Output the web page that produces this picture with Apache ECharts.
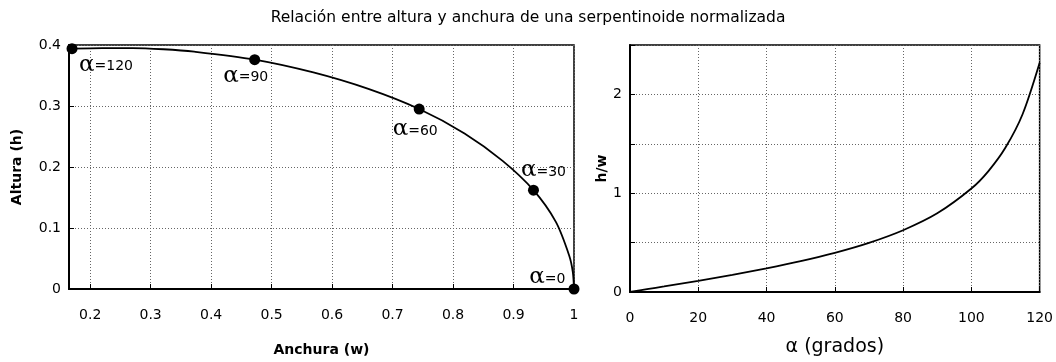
<!DOCTYPE html>
<html><head><meta charset="utf-8">
<script src="https://cdn.jsdelivr.net/npm/echarts@6/dist/echarts.min.js"></script>
<style>html,body{margin:0;padding:0;background:#fff}#c{width:1056px;height:362px}</style>
</head><body><div id="c"></div>
<script>
// alpha in degrees
const alphaDeg = [0, 5, 10, 20, 30, 40, 50, 60, 70, 80, 90, 100, 105, 110, 115, 120];
// normalized width (w) and height (h)
const widthW  = [1.000, 0.998, 0.992, 0.970, 0.933, 0.882, 0.819, 0.744, 0.660, 0.569, 0.472, 0.372, 0.321, 0.270, 0.220, 0.170];
const heightH = [0.000, 0.028, 0.055, 0.110, 0.162, 0.210, 0.255, 0.295, 0.328, 0.355, 0.376, 0.389, 0.393, 0.395, 0.395, 0.394];
// h/w ratio
const ratioHW = [0.000, 0.028, 0.056, 0.113, 0.173, 0.239, 0.312, 0.396, 0.497, 0.625, 0.796, 1.047, 1.224, 1.462, 1.799, 2.320];
const markedAlpha = [0, 30, 60, 90, 120];
const leftXTicks = [0.2, 0.3, 0.4, 0.5, 0.6, 0.7, 0.8, 0.9, 1];

const FONT = 'DejaVu Sans';
const labelPlacement = {
  0:   {position: 'left',   offset: [2, -12]},
  30:  {position: 'top',    offset: [10, 2]},
  60:  {position: 'bottom', offset: [-4, -2]},
  90:  {position: 'bottom', offset: [-9, -6]},
  120: {position: 'bottom', offset: [34, -6]}
};

const curveData = alphaDeg.map((a, i) => [widthW[i], heightH[i]]);
const pointData = markedAlpha.map(a => {
  const i = alphaDeg.indexOf(a);
  return {value: [widthW[i], heightH[i]], name: String(a), label: labelPlacement[a]};
});
const ratioData = alphaDeg.map((a, i) => [a, ratioHW[i]]);

const gridLine = {show: true, lineStyle: {color: '#666', type: [1, 2], width: 1}};
const axisLineStyle = {show: true, onZero: false, lineStyle: {color: '#000', width: 2}};
const tickStyle = {show: true, inside: true, length: 5, lineStyle: {color: '#000', width: 1}};
const labelStyle = {color: '#000', fontSize: 14, fontFamily: FONT};

const chart = echarts.init(document.getElementById('c'), null, {renderer: 'canvas'});
chart.setOption({
  animation: false,
  backgroundColor: '#fff',
  textStyle: {fontFamily: FONT},
  title: {
    text: 'Relación entre altura y anchura de una serpentinoide normalizada',
    left: 'center', top: 5,
    textStyle: {fontSize: 15.5, fontWeight: 'normal', color: '#000', fontFamily: FONT}
  },
  grid: [
    {left: 69, right: 482, top: 45, bottom: 69, show: true, borderColor: '#000', borderWidth: 1.5, backgroundColor: 'transparent'},
    {left: 630, right: 13, top: 45, bottom: 69, show: true, borderColor: '#000', borderWidth: 1.5, backgroundColor: 'transparent'}
  ],
  xAxis: [
    {
      gridIndex: 0, type: 'value', min: 0.165, max: 1,
      name: 'Anchura (w)', nameLocation: 'middle', nameGap: 54,
      nameTextStyle: {fontSize: 14, fontWeight: 'bold', color: '#000', fontFamily: FONT},
      axisLine: axisLineStyle,
      axisTick: Object.assign({customValues: leftXTicks}, tickStyle),
      axisLabel: Object.assign({customValues: leftXTicks, margin: 19}, labelStyle),
      splitLine: gridLine
    },
    {
      gridIndex: 1, type: 'value', min: 0, max: 120, interval: 20,
      name: 'α (grados)', nameLocation: 'middle', nameGap: 46,
      nameTextStyle: {fontSize: 19, color: '#000', fontFamily: FONT},
      axisLine: axisLineStyle, axisTick: tickStyle,
      axisLabel: Object.assign({margin: 19}, labelStyle),
      splitLine: gridLine
    }
  ],
  yAxis: [
    {
      gridIndex: 0, type: 'value', min: 0, max: 0.4, interval: 0.1,
      name: 'Altura (h)', nameLocation: 'middle', nameGap: 45, nameRotate: 90,
      nameTextStyle: {fontSize: 14, fontWeight: 'bold', color: '#000', fontFamily: FONT},
      axisLine: axisLineStyle, axisTick: tickStyle,
      axisLabel: Object.assign({margin: 8}, labelStyle),
      splitLine: gridLine
    },
    {
      gridIndex: 1, type: 'value', min: 0, max: 2.5, interval: 0.5,
      name: 'h/w', nameLocation: 'middle', nameGap: 19, nameRotate: 90,
      nameTextStyle: {fontSize: 14, fontWeight: 'bold', color: '#000', fontFamily: FONT},
      axisLine: axisLineStyle, axisTick: tickStyle,
      axisLabel: Object.assign({margin: 8, formatter: v => (Math.abs(v - Math.round(v)) < 1e-9 ? String(Math.round(v)) : '')}, labelStyle),
      splitLine: gridLine
    }
  ],
  series: [
    {
      type: 'line', xAxisIndex: 0, yAxisIndex: 0, data: curveData,
      smooth: 0.3, showSymbol: false, lineStyle: {color: '#000', width: 1.8}, z: 3
    },
    {
      type: 'scatter', xAxisIndex: 0, yAxisIndex: 0, data: pointData,
      symbol: 'circle', symbolSize: 11, itemStyle: {color: '#000', opacity: 1}, clip: false, z: 4,
      label: {
        show: true, color: '#000',
        formatter: p => '{a|α}{b|=' + p.name + '}',
        rich: {
          a: {fontSize: 23, fontFamily: 'DejaVu Serif', color: '#000'},
          b: {fontSize: 14, fontFamily: FONT, color: '#000', padding: [4, 0, 0, 0]}
        }
      }
    },
    {
      type: 'line', xAxisIndex: 1, yAxisIndex: 1, data: ratioData,
      smooth: 0.3, showSymbol: false, lineStyle: {color: '#000', width: 1.8}, z: 3
    }
  ]
});
</script>
</body></html>
